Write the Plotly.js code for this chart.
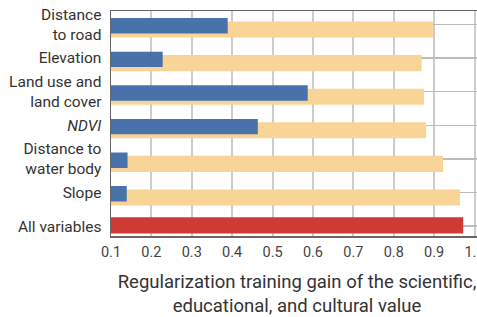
<!DOCTYPE html>
<html>
<head>
<meta charset="utf-8">
<script src="https://cdn.plot.ly/plotly-3.0.1.min.js"></script>
<style>
html, body { margin: 0; padding: 0; overflow: hidden; background: #fff; }
#chart { width: 490px; height: 317px; }
</style>
</head>
<body>
<div id="chart"></div>
<script>
// Data
const categories = ["Distance<br>to road", "Elevation", "Land use and<br>land cover", "<i>NDVI</i>", "Distance to<br>water body", "Slope", "All variables"];
const variableNames = categories.slice(0, 6);
const withoutVariable = [0.897, 0.869, 0.875, 0.880, 0.922, 0.964];   // light orange
const withOnlyVariable = [0.389, 0.228, 0.587, 0.4635, 0.141, 0.139];  // blue
const allVariablesName = ["All variables"];
const allVariablesGain = [0.972];                                   // red
const xTicks = [0.1, 0.2, 0.3, 0.4, 0.5, 0.6, 0.7, 0.8, 0.9, 1.0];

const traces = [
  {
    type: "bar", orientation: "h",
    y: variableNames, x: withoutVariable,
    marker: {color: "#F8D496"},
    width: 0.48, offset: -0.09,
    hoverinfo: "x"
  },
  {
    type: "bar", orientation: "h",
    y: variableNames, x: withOnlyVariable,
    marker: {color: "#4A72AA"},
    width: 0.46, offset: -0.19,
    hoverinfo: "x"
  },
  {
    type: "bar", orientation: "h",
    y: allVariablesName, x: allVariablesGain,
    marker: {color: "#CF3A34"},
    width: 0.48, offset: -0.26,
    hoverinfo: "x"
  }
];

const layout = {
  width: 490, height: 317,
  margin: {l: 111, r: 7, t: 11, b: 81},
  paper_bgcolor: "#fff", plot_bgcolor: "#fff",
  barmode: "overlay",
  showlegend: false,
  font: {family: "Roboto, sans-serif", color: "#333"},
  xaxis: {
    range: [0.1, 1.021],
    tickvals: xTicks,
    tickformat: ".1f",
    tickfont: {size: 14.5, color: "#444"},
    showgrid: true, gridcolor: "#cccccc", gridwidth: 2,
    showline: true, linecolor: "#666", linewidth: 1.5, mirror: true,
    zeroline: false,
    ticks: "",
    ticklabelstandoff: 2,
    title: {
      text: "Regularization training gain of the scientific,<br>educational, and cultural value",
      font: {size: 18.5, color: "#333"},
      standoff: 27
    }
  },
  yaxis: {
    type: "category",
    categoryorder: "array", categoryarray: categories,
    range: [6.295, -0.40],
    tickfont: {size: 15.5, color: "#333"},
    showgrid: true, gridcolor: "#bbbbbb", gridwidth: 1.5,
    showline: true, linecolor: "#666", linewidth: 1.5,
    zeroline: false,
    ticks: "",
    ticklabelstandoff: 5
  }
};

Plotly.newPlot("chart", traces, layout, {displayModeBar: false, staticPlot: true});
</script>
</body>
</html>
